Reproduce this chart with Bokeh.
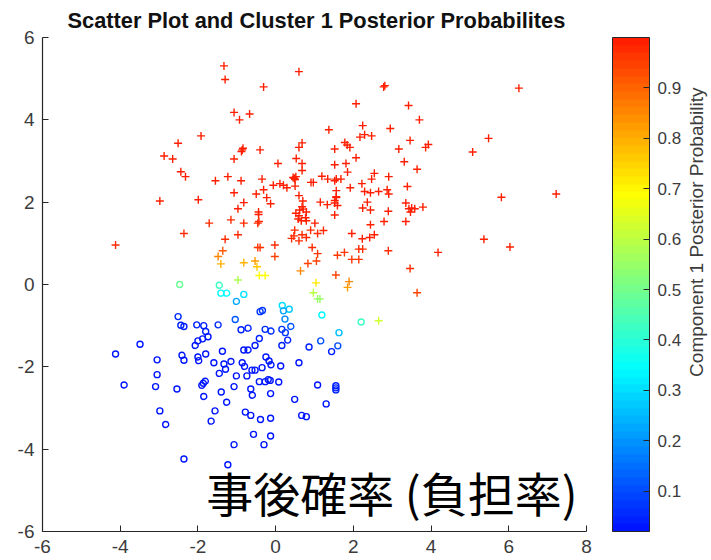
import math

from bokeh.plotting import figure
from bokeh.models import (ColumnDataSource, LinearColorMapper, ColorBar, Label,
                          FixedTicker, Range1d, PrintfTickFormatter)
from bokeh.transform import linear_cmap
from bokeh.embed import file_html
from bokeh.resources import INLINE

# ---- cluster 1 (drawn with '+'): x, y and posterior probability of component 1
c1_x = [-1.33, -1.30, -1.07, -0.67, -0.93, -1.92, -2.51, -2.87, -2.65, -0.86,
        -0.88, -0.84, -1.07, -0.40, -2.44, -2.32, -1.55, -1.23, -0.89, -1.07,
        -0.50, -0.35, 0.60, -0.31, 2.78, 2.81, 2.07, 3.42, 3.70, 1.37,
        2.24, 2.95, 2.29, 2.17, 2.47, 3.46, 3.17, 3.86, 3.93, 0.60,
        0.68, 1.52, 1.78, 1.84, 1.91, 2.07, 0.53, 0.06, 0.68, 0.68,
        1.52, 1.81, 1.85, 3.31, 3.64, 2.54, 2.47, 2.91, -0.31, 0.48,
        0.52, 0.50, 0.45, 0.50, -0.06, 0.11, 0.20, 0.29, 0.60, 0.91,
        0.97, 1.19, 1.34, 1.52, 1.56, 1.68, 1.56, 1.56, 1.92, 2.22,
        2.29, 2.44, 2.65, 2.87, 2.91, 3.39, 6.26, 5.48, 5.07, 5.81,
        7.22, 5.36, 6.03, -2.98, -1.99, -0.82, -0.97, -0.44, -0.44, -1.71,
        -1.15, -0.82, -0.46, -0.43, -2.36, -4.12, -1.30, -0.97, -0.46, -0.40,
        -1.36, -1.48, -1.41, -0.82, -0.53, -0.48, -0.42, -0.27, -0.97, -0.23,
        -0.13, 0.70, 0.68, 0.62, 0.71, 1.15, 1.33, 1.52, 1.56, 1.59,
        1.52, 0.52, 0.60, 0.79, 0.77, 0.66, 0.58, 0.79, 1.52, 1.01,
        0.49, 0.90, 1.23, 1.08, 0.41, 0.47, 0.60, 0.68, 0.79, -0.02,
        -0.02, 0.94, 1.08, 1.05, 0.83, 1.59, 1.77, 1.96, 2.23, 2.42,
        2.54, 2.44, 2.24, 2.44, 2.36, 2.79, 2.90, 3.35, 3.35, 3.43,
        3.47, 3.58, 3.79, 3.50, 2.14, 2.24, 1.96, 2.14, 2.90, 4.18,
        3.46, 3.64, 1.55, 0.64, 1.89, 1.85, 1.04, 0.97, 1.08, 1.14,
        2.65]
c1_y = [5.31, 4.98, 4.18, 4.14, 4.00, 3.61, 3.43, 3.12, 3.05, 3.27,
        3.23, 3.31, 3.05, 3.27, 2.74, 2.62, 2.52, 2.62, 2.52, 2.23,
        2.20, 2.56, 5.17, 4.80, 4.80, 4.83, 4.39, 4.35, 4.00, 3.76,
        3.86, 3.79, 3.64, 3.58, 3.61, 3.50, 3.29, 3.33, 3.40, 3.33,
        3.44, 3.29, 3.45, 3.39, 3.33, 3.08, 3.06, 2.94, 2.94, 2.77,
        2.91, 2.94, 2.73, 2.98, 2.80, 2.70, 2.56, 2.62, 2.30, 2.58,
        2.62, 2.55, 2.60, 2.39, 2.41, 2.45, 2.41, 2.35, 2.16, 2.48,
        2.48, 2.63, 2.56, 2.52, 2.56, 2.56, 2.28, 2.13, 2.35, 2.45,
        2.26, 2.23, 2.26, 2.30, 2.20, 2.38, 4.77, 3.55, 3.22, 2.12,
        2.20, 1.10, 0.91, 2.03, 2.06, 1.99, 1.84, 1.76, 1.70, 1.49,
        1.57, 1.49, 1.49, 1.53, 1.24, 0.96, 1.10, 1.21, 0.90, 0.90,
        0.82, 0.68, 0.50, 0.53, 0.57, 0.43, 0.22, 0.22, 0.11, 2.11,
        1.96, 2.03, 1.89, 1.81, 1.83, 2.00, 1.94, 2.04, 2.11, 1.92,
        1.98, 1.73, 1.67, 1.76, 1.62, 1.55, 1.59, 1.55, 1.69, 1.49,
        1.32, 1.32, 1.31, 1.24, 1.12, 1.18, 1.06, 1.21, 1.14, 0.96,
        0.68, 0.90, 0.75, 0.57, 0.51, 0.71, 0.78, 1.24, 1.11, 1.14,
        1.21, 1.45, 1.86, 1.81, 2.00, 1.53, 1.78, 1.98, 1.53, 1.84,
        1.76, 1.84, 1.88, 1.86, 0.86, 0.86, 0.61, 0.61, 0.82, 0.78,
        0.39, -0.20, 0.23, 0.33, 0.07, -0.07, 0.04, -0.20, -0.35, -0.35,
        -0.88]
c1_p = [0.99, 0.99, 0.99, 0.99, 0.99, 0.99, 0.99, 0.99, 0.99, 0.99,
        0.99, 0.99, 0.99, 0.99, 0.99, 0.99, 0.99, 0.99, 0.99, 0.99,
        0.99, 0.99, 0.99, 0.99, 0.99, 0.99, 0.99, 0.99, 0.99, 0.99,
        0.99, 0.99, 0.99, 0.99, 0.99, 0.99, 0.99, 0.99, 0.99, 0.99,
        0.99, 0.99, 0.99, 0.99, 0.99, 0.99, 0.99, 0.99, 0.99, 0.99,
        0.99, 0.99, 0.99, 0.99, 0.99, 0.99, 0.99, 0.99, 0.99, 0.99,
        0.99, 0.99, 0.99, 0.99, 0.99, 0.99, 0.99, 0.99, 0.99, 0.99,
        0.99, 0.99, 0.99, 0.99, 0.99, 0.99, 0.99, 0.99, 0.99, 0.99,
        0.99, 0.99, 0.99, 0.99, 0.99, 0.99, 0.99, 0.99, 0.99, 0.99,
        0.99, 0.99, 0.99, 0.99, 0.99, 0.99, 0.99, 0.99, 0.99, 0.98,
        0.98, 0.98, 0.98, 0.98, 0.98, 0.97, 0.97, 0.97, 0.96, 0.96,
        0.92, 0.86, 0.80, 0.80, 0.83, 0.76, 0.68, 0.68, 0.58, 0.99,
        0.99, 0.99, 0.99, 0.99, 0.99, 0.99, 0.99, 0.99, 0.99, 0.99,
        0.99, 0.99, 0.99, 0.99, 0.99, 0.99, 0.99, 0.99, 0.99, 0.99,
        0.98, 0.98, 0.98, 0.98, 0.98, 0.98, 0.98, 0.98, 0.98, 0.97,
        0.95, 0.97, 0.96, 0.95, 0.95, 0.96, 0.96, 0.99, 0.99, 0.99,
        0.99, 0.99, 0.99, 0.99, 0.99, 0.99, 0.99, 0.99, 0.99, 0.99,
        0.99, 0.99, 0.99, 0.99, 0.97, 0.97, 0.96, 0.96, 0.98, 0.99,
        0.97, 0.95, 0.94, 0.85, 0.85, 0.82, 0.72, 0.60, 0.55, 0.55,
        0.63]

# ---- cluster 2 (drawn with 'o')
c2_x = [-2.47, -1.45, -1.41, -1.26, -0.82, -1.01, 0.17, 0.35, 0.20, 1.19,
        2.20, 1.63, -1.04, 0.24, 0.39, 1.16, 1.60,
        -2.51, -2.44, -2.36, -2.03, -1.85, -1.80, -1.48, -1.74, -1.88, -2.00,
        -2.07, -3.49, -4.12, -3.05, -2.41, -2.36, -2.00, -1.98, -1.80, -1.37,
        -1.59, -1.33, -1.15, -1.29, -1.45, -3.05, -3.90, -3.09, -2.54, -1.90,
        -1.86, -1.81, -1.85, -1.40, -1.26, -2.98, -1.56, -1.66, -2.83, -2.36,
        -1.23,
        -0.40, -0.34, -0.89, -0.71, -0.27, -0.12, 0.16, 0.25, 0.31, -0.42,
        1.44, 0.86, 0.16, -0.53, -0.82, -0.71, -0.86, -0.80, -0.25, -0.17,
        -0.12, 0.13, 0.60, -0.61, -0.53, -0.35, -1.01, -0.74, -0.42, -0.27,
        -0.19, -0.14, 0.08, -1.07, -0.64, -0.60, -0.13, 1.08, 1.55, 1.55,
        1.55, 0.49, 1.30, -0.78, -0.64, -0.39, -0.13, 0.67, 0.79, -0.57,
        -0.13, -1.07, -0.30]
c2_y = [0.00, -0.02, -0.21, -0.21, -0.24, -0.41, -0.51, -0.60, -0.64, -0.74,
        -0.91, -1.17, -0.85, -0.84, -1.02, -1.37, -1.49,
        -0.78, -0.99, -1.02, -0.98, -1.00, -1.14, -0.98, -1.27, -1.32, -1.37,
        -1.48, -1.45, -1.69, -1.83, -1.72, -1.84, -1.76, -1.85, -1.69, -1.62,
        -1.90, -1.93, -1.87, -2.06, -2.16, -2.19, -2.44, -2.48, -2.54, -2.45,
        -2.40, -2.35, -2.72, -2.61, -2.86, -3.07, -3.07, -3.32, -3.40, -4.24,
        -4.38,
        -0.66, -0.63, -1.10, -1.06, -1.09, -1.13, -1.09, -1.17, -1.35, -1.31,
        -1.63, -1.52, -1.48, -1.48, -1.59, -1.59, -1.90, -1.99, -1.76, -1.86,
        -1.95, -1.98, -1.90, -2.08, -2.08, -2.02, -2.22, -2.22, -2.36, -2.36,
        -2.31, -2.33, -2.37, -2.48, -2.54, -2.69, -2.65, -2.44, -2.46, -2.51,
        -2.56, -2.79, -2.90, -3.10, -3.18, -3.28, -3.25, -3.18, -3.21, -3.64,
        -3.68, -3.89, -3.89]
c2_p = [0.48, 0.43, 0.35, 0.35, 0.30, 0.22, 0.30, 0.28, 0.22, 0.33,
        0.43, 0.25, 0.12, 0.18, 0.12, 0.10, 0.10,
        0.06, 0.04, 0.04, 0.04, 0.05, 0.04, 0.06, 0.03, 0.03, 0.03,
        0.02, 0.02, 0.02, 0.02, 0.02, 0.02, 0.02, 0.02, 0.02, 0.03,
        0.02, 0.02, 0.03, 0.02, 0.02, 0.02, 0.02, 0.02, 0.02, 0.02,
        0.02, 0.02, 0.02, 0.02, 0.02, 0.02, 0.02, 0.02, 0.02, 0.02,
        0.02,
        0.08, 0.08, 0.05, 0.05, 0.06, 0.06, 0.08, 0.07, 0.05, 0.04,
        0.05, 0.04, 0.04, 0.03, 0.03, 0.03, 0.02, 0.02, 0.03, 0.03,
        0.02, 0.02, 0.03, 0.02, 0.02, 0.02, 0.02, 0.02, 0.02, 0.02,
        0.02, 0.02, 0.02, 0.02, 0.02, 0.02, 0.02, 0.03, 0.04, 0.04,
        0.04, 0.02, 0.03, 0.02, 0.02, 0.02, 0.02, 0.02, 0.02, 0.02,
        0.02, 0.02, 0.02]

x_ticks = [-6, -4, -2, 0, 2, 4, 6, 8]
y_ticks = [-6, -4, -2, 0, 2, 4, 6]
cb_ticks = [0.1, 0.2, 0.3, 0.4, 0.5, 0.6, 0.7, 0.8, 0.9]
p_low, p_high = 0.02, 1.0

# the data axes cover x in [-6, 8] over 544 px; the drawing area is widened to
# the right (same scale) so the colour bar and its caption sit beside the data
X0, X1 = -6, 8
PLOT_W, AXES_W = 669, 544
x_end = X0 + (X1 - X0) * PLOT_W / AXES_W


def jet(n):
    """Blue -> cyan -> yellow -> red colormap sampled in n bands."""
    out = []
    for i in range(n):
        t = 0.14 + 0.71 * (i + 0.5) / n
        r = min(max(1.5 - abs(4 * t - 3), 0), 1)
        g = min(max(1.5 - abs(4 * t - 2), 0), 1)
        b = min(max(1.5 - abs(4 * t - 1), 0), 1)
        out.append("#%02x%02x%02x" % (round(r * 255), round(g * 255), round(b * 255)))
    return out


palette = jet(64)
mapper = LinearColorMapper(palette=palette, low=p_low, high=p_high)

TXT = "#3c3c3c"
FONT = "Liberation Sans"

p = figure(width=711, height=560, frame_width=PLOT_W, frame_height=494,
           x_range=Range1d(X0, x_end), y_range=Range1d(-6, 6),
           output_backend="svg", toolbar_location=None,
           min_border_left=42, min_border_right=0,
           min_border_top=37, min_border_bottom=29)
p.background_fill_color = "white"
p.border_fill_color = "white"
p.outline_line_color = None
p.grid.visible = False

p.title.text = "Scatter Plot and Cluster 1 Posterior Probabilites"
p.title.align = "left"
p.title.offset = 25
p.title.text_font = FONT
p.title.text_font_size = "21.8px"
p.title.text_font_style = "bold"
p.title.text_color = "#111111"

for ax, ticks in ((p.xaxis[0], x_ticks), (p.yaxis[0], y_ticks)):
    ax.ticker = FixedTicker(ticks=ticks)
    ax.formatter = PrintfTickFormatter(format="%d")
    ax.major_tick_in = 6
    ax.major_tick_out = 0
    ax.minor_tick_line_color = None
    ax.axis_line_color = "#262626"
    ax.axis_line_width = 1.2
    ax.major_tick_line_color = "#262626"
    ax.major_label_text_font = FONT
    ax.major_label_text_font_size = "19px"
    ax.major_label_text_color = TXT
    ax.major_label_standoff = 8
p.xaxis[0].bounds = (X0, X1)

src1 = ColumnDataSource(dict(x=c1_x, y=c1_y, p=c1_p))
src2 = ColumnDataSource(dict(x=c2_x, y=c2_y, p=c2_p))

p.scatter("x", "y", source=src2, marker="circle", size=6, fill_color=None,
          line_width=1.4, line_color=linear_cmap("p", palette, p_low, p_high))
p.scatter("x", "y", source=src1, marker="cross", size=8,
          line_width=1.4, line_color=linear_cmap("p", palette, p_low, p_high))

cb = ColorBar(color_mapper=mapper, ticker=FixedTicker(ticks=cb_ticks),
              width=37, height=494, padding=0, margin=0,
              location=(AXES_W + 26, 0),
              bar_line_color="#262626", bar_line_width=1,
              major_tick_in=6, major_tick_out=0,
              major_tick_line_color="#262626",
              minor_tick_line_color=None,
              major_label_text_font=FONT,
              major_label_text_font_size="17px",
              major_label_text_color=TXT,
              label_standoff=8,
              background_fill_color=None, border_line_color=None)
p.add_layout(cb)

# colour bar caption, reading bottom to top beside the tick labels
p.add_layout(Label(x=10.83, y=1.27, text="Component 1 Posterior Probability",
                   angle=math.pi / 2, text_align="center", text_baseline="middle",
                   text_font=FONT, text_font_size="19px", text_color=TXT))

p.add_layout(Label(x=7.77, y=-5.04, text="事後確率 (負担率)",
                   text_align="right", text_baseline="middle",
                   text_font="Noto Sans CJK JP", text_font_size="47px",
                   text_color="black"))

open("out.html", "w").write(file_html(p, INLINE))
